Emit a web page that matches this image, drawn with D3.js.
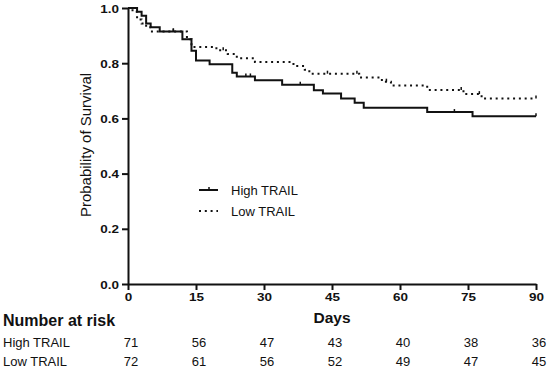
<!DOCTYPE html>
<html>
<head>
<meta charset="utf-8">
<script src="https://cdn.jsdelivr.net/npm/d3@7"></script>
<style>
  body { margin: 0; background: #fff; }
  text { font-family: "Liberation Sans", Arial, sans-serif; fill: #111; }
</style>
</head>
<body>
<div id="km-chart"></div>
<script>
// Kaplan-Meier steps
let highDays = [0, 2, 3, 4, 5, 7, 12, 14, 15, 18, 23, 24, 28, 34, 41, 43, 47, 50, 52, 66, 76, 90];
let highSurv = [1, 0.986, 0.972, 0.944, 0.930, 0.915, 0.887, 0.845, 0.810, 0.796, 0.765, 0.752, 0.738, 0.722, 0.702, 0.690, 0.672, 0.657, 0.639, 0.623, 0.608, 0.608];
let lowDays = [0, 1, 2, 3, 4, 5, 13, 14, 19.5, 22, 24, 28, 36.5, 39, 40, 51, 56, 58, 66, 74, 78, 90];
let lowSurv = [1, 0.986, 0.958, 0.944, 0.930, 0.915, 0.887, 0.859, 0.847, 0.833, 0.818, 0.804, 0.790, 0.776, 0.762, 0.748, 0.733, 0.719, 0.703, 0.688, 0.672, 0.672];
let highCensor = [10, 26, 27, 38, 72, 90];
let lowCensor = [10, 21, 44, 50.5, 57, 73.5, 77.5, 90];

let xTicks = [0, 15, 30, 45, 60, 75, 90];
let yTicks = [0, 0.2, 0.4, 0.6, 0.8, 1.0];
let highRisk = [71, 56, 47, 43, 40, 38, 36];
let lowRisk = [72, 61, 56, 52, 49, 47, 45];

let width = 550, height = 370;
let plot = {left: 128, right: 536, top: 8, bottom: 284};

let svg = d3.select("#km-chart")
    .append("svg")
    .attr("width", width)
    .attr("height", height);

let x = d3.scaleLinear().domain([0, 90]).range([plot.left, plot.right]);
let y = d3.scaleLinear().domain([0, 1]).range([plot.bottom, plot.top]);

// axes
let yAxis = svg.append("g")
    .attr("transform", "translate(" + plot.left + ",0)")
    .call(d3.axisLeft(y).tickValues(yTicks).tickFormat(d3.format(".1f")).tickSize(6).tickSizeOuter(0).tickPadding(3));
yAxis.selectAll("text")
    .style("font-size", "13.5px").style("font-weight", "bold")
    .attr("dy", "0.35em")
    .attr("transform", "scale(1,0.85)");

let xAxis = svg.append("g")
    .attr("transform", "translate(0," + plot.bottom + ")")
    .call(d3.axisBottom(x).tickValues(xTicks).tickSize(6).tickSizeOuter(0));
xAxis.selectAll("text")
    .style("font-size", "13.5px").style("font-weight", "bold")
    .attr("y", 20.5).attr("dy", 0)
    .attr("transform", "scale(1,0.85)");

svg.selectAll(".domain, .tick line")
    .attr("stroke", "#111").attr("stroke-width", 2);

// survival curves
function steps(days, surv) {
    return days.map(function (d, i) { return [d, surv[i]]; });
}
function survAt(days, surv, t) {
    let v = surv[0];
    for (let i = 0; i < days.length; i++) if (days[i] <= t) v = surv[i];
    return v;
}

let line = d3.line()
    .x(function (d) { return x(d[0]); })
    .y(function (d) { return y(d[1]); })
    .curve(d3.curveStepAfter);

svg.append("path")
    .datum(steps(highDays, highSurv))
    .attr("d", line)
    .attr("fill", "none").attr("stroke", "#111").attr("stroke-width", 2);

svg.append("path")
    .datum(steps(lowDays, lowSurv))
    .attr("d", line)
    .attr("fill", "none").attr("stroke", "#111").attr("stroke-width", 2)
    .attr("stroke-dasharray", "2,3.8");

// censor marks
svg.selectAll(".cens-high")
    .data(highCensor)
    .enter().append("line")
    .attr("x1", function (d) { return x(d); })
    .attr("x2", function (d) { return x(d); })
    .attr("y1", function (d) { return y(survAt(highDays, highSurv, d)); })
    .attr("y2", function (d) { return y(survAt(highDays, highSurv, d)) - 3; })
    .attr("stroke", "#111").attr("stroke-width", 1.5);

svg.selectAll(".cens-low")
    .data(lowCensor)
    .enter().append("line")
    .attr("x1", function (d) { return x(d); })
    .attr("x2", function (d) { return x(d); })
    .attr("y1", function (d) { return y(survAt(lowDays, lowSurv, d)); })
    .attr("y2", function (d) { return y(survAt(lowDays, lowSurv, d)) - 3; })
    .attr("stroke", "#111").attr("stroke-width", 1.5);

// legend
let legend = svg.append("g");
legend.append("line")
    .attr("x1", 199).attr("x2", 218).attr("y1", 190).attr("y2", 190)
    .attr("stroke", "#111").attr("stroke-width", 2);
legend.append("line")
    .attr("x1", 209).attr("x2", 209).attr("y1", 190).attr("y2", 187)
    .attr("stroke", "#111").attr("stroke-width", 1.5);
legend.append("text").attr("x", 231).attr("y", 194.5)
    .style("font-size", "13px").text("High TRAIL");
legend.append("line")
    .attr("x1", 199).attr("x2", 218).attr("y1", 211).attr("y2", 211)
    .attr("stroke", "#111").attr("stroke-width", 2).attr("stroke-dasharray", "2,3.8");
legend.append("text").attr("x", 231).attr("y", 215.5)
    .style("font-size", "13px").text("Low TRAIL");

// axis titles
svg.append("text")
    .attr("transform", "translate(91,145) rotate(-90)")
    .attr("text-anchor", "middle")
    .style("font-size", "15px")
    .text("Probability of Survival");

svg.append("text")
    .attr("x", x(45)).attr("y", 323)
    .attr("text-anchor", "middle")
    .style("font-size", "15.5px").style("font-weight", "bold")
    .text("Days");

// number at risk table
svg.append("text")
    .attr("x", 3).attr("y", 326)
    .style("font-size", "16px").style("font-weight", "bold")
    .text("Number at risk");

let rows = [["High TRAIL", highRisk, 347], ["Low TRAIL", lowRisk, 366]];
rows.forEach(function (r) {
    svg.append("text")
        .attr("x", 3).attr("y", r[2])
        .style("font-size", "13px")
        .text(r[0]);
    svg.selectAll(null)
        .data(r[1])
        .enter().append("text")
        .attr("x", function (d, i) { return x(xTicks[i]) + 3; })
        .attr("y", r[2])
        .attr("text-anchor", "middle")
        .style("font-size", "13px")
        .text(function (d) { return d; });
});
</script>
</body>
</html>
